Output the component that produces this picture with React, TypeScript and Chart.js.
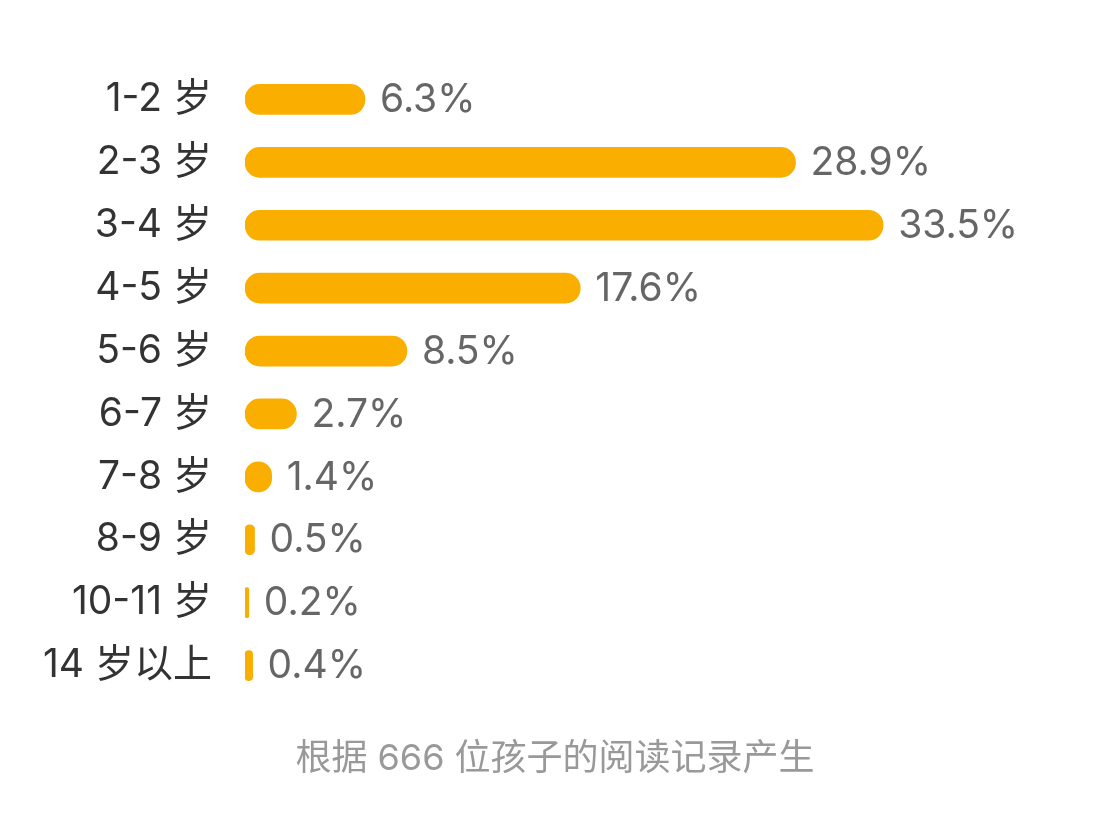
import { useEffect, useRef } from "react"
import { Chart, type ChartConfiguration, type Plugin, registerables } from "chart.js"

Chart.register(...registerables)

const ageGroups = ["1-2 岁", "2-3 岁", "3-4 岁", "4-5 岁", "5-6 岁", "6-7 岁", "7-8 岁", "8-9 岁", "10-11 岁", "14 岁以上"]
const shares = [6.3, 28.9, 33.5, 17.6, 8.5, 2.7, 1.4, 0.5, 0.2, 0.4]
const footNote = "根据 666 位孩子的阅读记录产生"

const FONT = 'Inter, "Noto Sans CJK SC", sans-serif'

// draws "x.x%" just past the end of each bar
const valueLabels: Plugin<"bar"> = {
  id: "valueLabels",
  afterDatasetsDraw(chart) {
    const ctx = chart.ctx
    const meta = chart.getDatasetMeta(0)
    ctx.save()
    ctx.font = `39px ${FONT}`
    ctx.fillStyle = "#666666"
    ctx.textAlign = "left"
    ctx.textBaseline = "middle"
    meta.data.forEach((bar, i) => {
      ctx.fillText(`${shares[i]}%`, bar.x + 15, bar.y + 1)
    })
    ctx.restore()
  },
}

export default function App() {
  const chartRef = useRef<HTMLCanvasElement>(null)
  const chartInstance = useRef<Chart | null>(null)

  useEffect(() => {
    document.body.style.margin = "0"
    if (!chartRef.current) return
    const ctx = chartRef.current.getContext("2d")
    if (!ctx) return

    if (chartInstance.current) {
      chartInstance.current.destroy()
    }

    const config: ChartConfiguration<"bar"> = {
      type: "bar",
      data: {
        labels: ageGroups,
        datasets: [
          {
            data: shares,
            backgroundColor: "#FAAE00",
            borderRadius: 15,
            borderSkipped: false,
            barThickness: 30,
          },
        ],
      },
      options: {
        indexAxis: "y",
        responsive: false,
        animation: false,
        layout: {
          padding: { top: 68, bottom: 131, left: 0, right: 89 },
        },
        scales: {
          x: {
            display: false,
            min: 0,
            max: 40,
          },
          y: {
            afterFit(scale) {
              scale.width = 245
            },
            grid: { display: false, drawTicks: false },
            border: { display: false },
            ticks: {
              padding: 33,
              color: "#333333",
              font: { family: FONT, size: 39 },
            },
          },
        },
        plugins: {
          legend: { display: false },
          tooltip: { enabled: false },
        },
      },
      plugins: [valueLabels],
    }

    chartInstance.current = new Chart(ctx, config)

    return () => {
      if (chartInstance.current) {
        chartInstance.current.destroy()
        chartInstance.current = null
      }
    }
  }, [])

  return (
    <div style={{ position: "relative", width: 1096, height: 828, background: "#fff" }}>
      <canvas ref={chartRef} width={1096} height={828} />
      <div
        style={{
          position: "absolute",
          left: 0,
          width: 1110,
          top: 733,
          textAlign: "center",
          fontFamily: FONT,
          fontSize: 36,
          lineHeight: "48px",
          color: "#999999",
        }}
      >
        {footNote}
      </div>
    </div>
  )
}
